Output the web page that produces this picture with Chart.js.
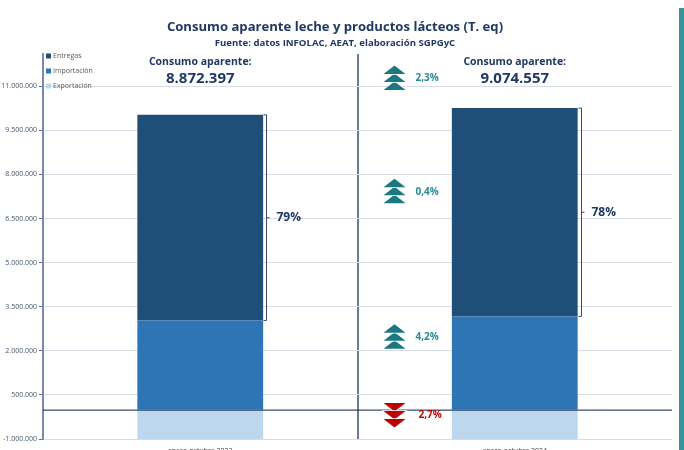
<!DOCTYPE html>
<html>
<head>
<meta charset="utf-8">
<script src="https://cdn.jsdelivr.net/npm/chart.js@4.4.1/dist/chart.umd.min.js"></script>
<style>
  html,body{margin:0;padding:0;background:#fff;overflow:hidden;}
  #wrap{position:relative;width:684px;height:450px;overflow:hidden;}
  #stripe{position:absolute;left:679px;top:8px;width:5px;height:442px;background:#3a919b;}
  canvas{position:absolute;left:0;top:0;}
</style>
</head>
<body>
<div id="wrap">
  <canvas id="c" width="684" height="470"></canvas>
  <div id="stripe"></div>
</div>
<script>
const categories = ['enero-octubre 2023', 'enero-octubre 2024'];
const entregas    = [7000000, 7090000];
const importacion = [3030000, 3170000];
const exportacion = [-1160000, -1190000];
const consumo     = [8872397, 9074557];
const shareLabels = ['79%', '78%'];
const yTicks = [-1000000, 500000, 2000000, 3500000, 5000000, 6500000, 8000000, 9500000, 11000000];

// flechas de variación entre periodos
const changeLabels = ['2,3%', '0,4%', '4,2%', '2,7%'];
const changeLevels = [11300000, 7450000, 2500000, -170000];
const changeUp     = [true, true, true, false];

const NAVY = '#1f3864';
const FONT = "'Open Sans', sans-serif";

const fmt = v => Math.round(v).toString().replace('-', '').replace(/\B(?=(\d{3})+(?!\d))/g, '.');
const fmtTick = v => (v < 0 ? '-' : '') + fmt(v);

function chevrons(ctx, cx, cy, up, color){
  ctx.fillStyle = color;
  ctx.strokeStyle = '#fff'; ctx.lineWidth = 1.5;
  const top = cy - 12;
  // se dibujan de la última a la primera para que la blanca tape la punta de la siguiente
  const order = up ? [2, 1, 0] : [0, 1, 2];
  order.forEach(k => {
    const y0 = top + k * 8;
    ctx.beginPath();
    if (up){
      ctx.moveTo(cx, y0); ctx.lineTo(cx + 11, y0 + 8.5); ctx.lineTo(cx - 11, y0 + 8.5);
    } else {
      ctx.moveTo(cx - 11, y0 + 0.5); ctx.lineTo(cx + 11, y0 + 0.5); ctx.lineTo(cx, y0 + 9);
    }
    ctx.closePath(); ctx.stroke(); ctx.fill();
  });
}

const extras = {
  id: 'extras',
  afterDatasetsDraw(chart){
    const {ctx, chartArea, scales:{x, y}} = chart;
    ctx.save();
    // linea del cero
    const y0 = y.getPixelForValue(0);
    ctx.strokeStyle = '#0b1f44'; ctx.lineWidth = 1;
    ctx.beginPath(); ctx.moveTo(chartArea.left, y0 + 0.5); ctx.lineTo(chartArea.right, y0 + 0.5); ctx.stroke();

    const meta = chart.getDatasetMeta(1);
    categories.forEach((c, i) => {
      const bar = meta.data[i];
      const cx = bar.x;
      const bx = Math.round(cx + bar.width / 2) + 3.5;
      const yTop = y.getPixelForValue(importacion[i] + entregas[i]);
      const yBot = y.getPixelForValue(importacion[i]);
      const yMid = (yTop + yBot) / 2;
      ctx.strokeStyle = '#3b4a6b'; ctx.lineWidth = 1;
      ctx.beginPath();
      ctx.moveTo(bx - 3, yTop); ctx.lineTo(bx, yTop); ctx.lineTo(bx, yBot); ctx.lineTo(bx - 3, yBot);
      ctx.moveTo(bx, yMid); ctx.lineTo(bx + 3, yMid);
      ctx.stroke();
      ctx.fillStyle = NAVY;
      ctx.font = "bold 12px " + FONT;
      ctx.textAlign = 'left'; ctx.textBaseline = 'middle';
      ctx.fillText(shareLabels[i], bx + 10, yMid);

      ctx.textAlign = 'center';
      ctx.font = "bold 10.5px " + FONT;
      ctx.fillText('Consumo aparente:', cx, 62);
      ctx.font = "bold 15px " + FONT;
      ctx.fillText(fmt(consumo[i]), cx, 79);
    });

    // flechas
    const mid = (x.getPixelForValue(0) + x.getPixelForValue(1)) / 2;
    changeLabels.forEach((t, i) => {
      const cy = y.getPixelForValue(changeLevels[i]);
      const col = changeUp[i] ? '#1b7780' : '#c00000';
      chevrons(ctx, mid + 37, cy, changeUp[i], col);
      ctx.fillStyle = changeUp[i] ? '#2b8a91' : '#c00000';
      ctx.font = "bold 10px " + FONT;
      ctx.textAlign = 'left'; ctx.textBaseline = 'middle';
      ctx.fillText(t, mid + (changeUp[i] ? 58 : 61), cy + 1);
    });

    // leyenda
    const leg = [['Entregas', '#1f4e79'], ['Importación', '#2e75b6'], ['Exportación', '#bdd7ee']];
    ctx.font = "7px " + FONT;
    leg.forEach(([t, col], i) => {
      const ly = 56 + i * 15;
      ctx.fillStyle = col; ctx.fillRect(46, ly - 2.5, 5, 5);
      ctx.fillStyle = '#595959'; ctx.textAlign = 'left';
      ctx.fillText(t, 53, ly);
    });

    // titulo
    const tc = 335;
    ctx.fillStyle = NAVY; ctx.textAlign = 'center';
    ctx.font = "bold 13.1px " + FONT;
    ctx.fillText('Consumo aparente leche y productos lácteos (T. eq)', tc, 27);
    ctx.font = "bold 9.6px " + FONT;
    ctx.fillText('Fuente: datos INFOLAC, AEAT, elaboración SGPGyC', tc, 43);
    ctx.restore();
  }
};

new Chart(document.getElementById('c'), {
  type: 'bar',
  data: {
    labels: categories,
    datasets: [
      {label: 'Importación', data: importacion, backgroundColor: '#2e75b6'},
      {label: 'Entregas', data: entregas, backgroundColor: '#1f4e79'},
      {label: 'Exportación', data: exportacion, backgroundColor: '#bdd7ee'}
    ]
  },
  options: {
    responsive: false, devicePixelRatio: 1, animation: false,
    barPercentage: 0.4, categoryPercentage: 1,
    layout: {padding: {top: 54, right: 12, bottom: 11, left: 0}},
    plugins: {legend: {display: false}, tooltip: {enabled: false}},
    scales: {
      x: {
        stacked: true, offset: true,
        afterFit: s => { s.height = 20; },
        border: {display: false},
        grid: {
          offset: true, drawTicks: false,
          color: c => c.index === 1 ? '#6b7b9b' : (c.index === 2 ? '#c9cfdd' : 'rgba(0,0,0,0)'),
          lineWidth: c => c.index === 1 ? 2 : 1
        },
        ticks: {color: '#404040', font: {family: FONT, size: 7}, padding: 8}
      },
      y: {
        stacked: true, min: -1000000, max: 12100000,
        afterFit: s => { s.width = 43; },
        afterBuildTicks: s => { s.ticks = yTicks.map(v => ({value: v})); },
        border: {color: '#7a8aaa', width: 2},
        grid: {color: '#d8dce7', lineWidth: 1, tickLength: 4, tickColor: '#5f6f90'},
        ticks: {color: '#44546a', font: {family: FONT, size: 7}, padding: 2, callback: v => fmtTick(v)}
      }
    }
  },
  plugins: [extras]
});
</script>
</body>
</html>
